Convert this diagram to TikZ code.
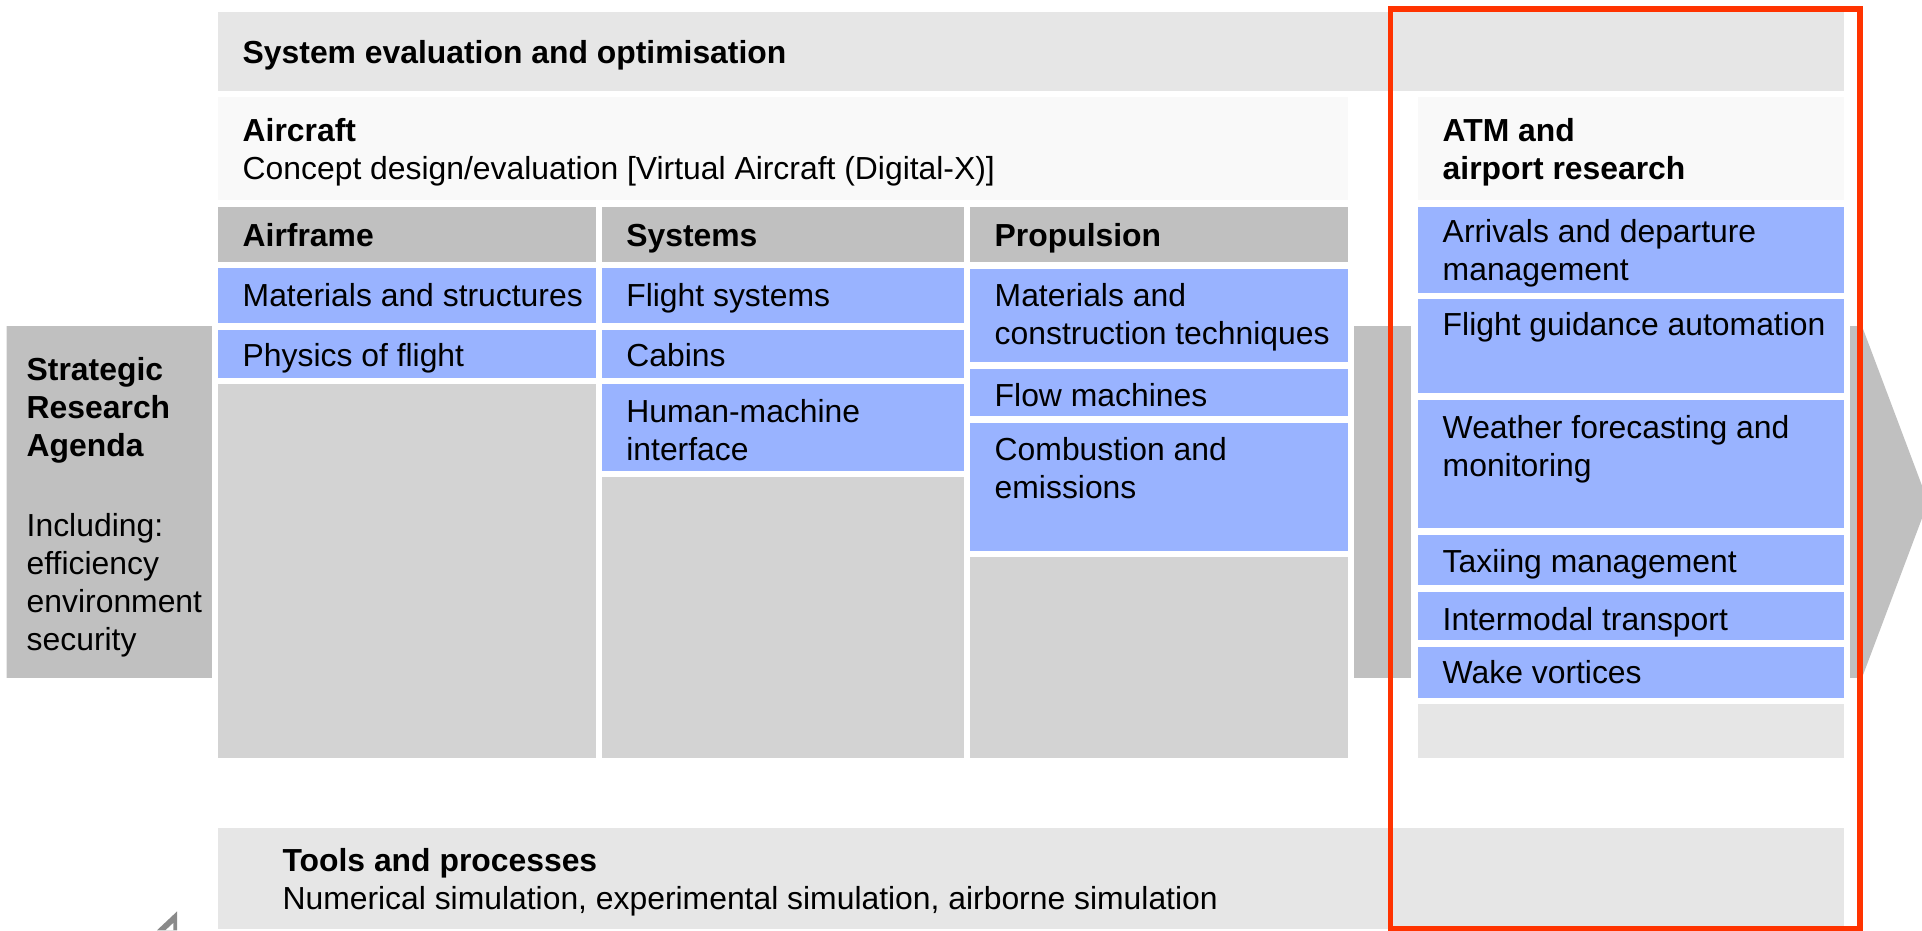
\documentclass[tikz,border=0pt]{standalone}
\usepackage{fontspec}
\setmainfont{Liberation Sans}
\definecolor{bargray}{HTML}{E6E6E6}
\definecolor{headlight}{HTML}{F9F9F9}
\definecolor{colhead}{HTML}{C0C0C0}
\definecolor{itemblue}{HTML}{99B3FF}
\definecolor{fillgray}{HTML}{D3D3D3}
\definecolor{arrowgray}{HTML}{C0C0C0}
\definecolor{redframe}{HTML}{FF3300}
\definecolor{markgray}{HTML}{8A8A8A}
\tikzset{
  cellbox/.style={rectangle, draw=white, line width=5pt, inner sep=0pt, outer sep=0pt},
  lbl/.style={anchor=north west, inner sep=0pt, outer sep=0pt, align=left,
    font=\fontsize{26}{31}\selectfont, text=black,
    execute at begin node={\rule{0pt}{22pt}}},
  frame/.style={draw=redframe, line width=4.2pt},
}
% name, x1, y1, x2, y2, colour
\newcommand\mkcell[6]{%
  \node[cellbox, fill=#6, minimum width={(#4)-(#2)+5}, minimum height={(#5)-(#3)+5}]
    (#1) at ({((#2)+(#4))/2},{((#3)+(#5))/2}) {};}
% name, x, first baseline, text
\newcommand\mklbl[4]{\node[lbl] (#1) at (#2,{(#3)-22}) {#4};}
\begin{document}
\begin{tikzpicture}[x=1pt, y=-1pt]
\useasboundingbox (0,0) rectangle (1568,759);
% big arrow (Strategic Research Agenda)
\fill[arrowgray] (5.4,266) -- (1519,266) -- (1573,409.5) -- (1519,553) -- (5.4,553) -- cycle;
% top and bottom bars
\mkcell{sys}{178}{9.5}{1504.5}{74}{bargray}
\mkcell{tools}{178}{675.6}{1504.5}{757.5}{bargray}
% headers
\mkcell{aircraft}{178}{79.5}{1099.5}{163.5}{headlight}
\mkcell{atm}{1156.5}{79.5}{1504.5}{163.5}{headlight}
\mkcell{afh}{178}{168.6}{486}{214}{colhead}
\mkcell{syh}{491}{168.6}{786.4}{214}{colhead}
\mkcell{prh}{791.3}{168.6}{1099.5}{214}{colhead}
% Airframe
\mkcell{ms}{178}{218.9}{486}{263.8}{itemblue}
\mkcell{pof}{178}{269.2}{486}{308.6}{itemblue}
\mkcell{afg}{178}{313.5}{486}{618.5}{fillgray}
% Systems
\mkcell{fs}{491}{218.9}{786.4}{263.8}{itemblue}
\mkcell{cab}{491}{269.2}{786.4}{308.6}{itemblue}
\mkcell{hmi}{491}{313.5}{786.4}{384}{itemblue}
\mkcell{syg}{491}{389}{786.4}{618.5}{fillgray}
% Propulsion
\mkcell{mct}{791.3}{219.3}{1099.5}{295.2}{itemblue}
\mkcell{flow}{791.3}{301}{1099.5}{339.7}{itemblue}
\mkcell{comb}{791.3}{345.2}{1099.5}{449.4}{itemblue}
\mkcell{prg}{791.3}{454.8}{1099.5}{618.5}{fillgray}
% ATM and airport research
\mkcell{arr}{1156.5}{168.6}{1504.5}{238.8}{itemblue}
\mkcell{fga}{1156.5}{244.2}{1504.5}{320.9}{itemblue}
\mkcell{wfm}{1156.5}{326.6}{1504.5}{431}{itemblue}
\mkcell{tax}{1156.5}{436.5}{1504.5}{477.3}{itemblue}
\mkcell{itm}{1156.5}{483.2}{1504.5}{522.1}{itemblue}
\mkcell{wake}{1156.5}{527.6}{1504.5}{569.4}{itemblue}
\mkcell{atmg}{1156.5}{574.4}{1504.5}{618.5}{bargray}
% highlight frame
\draw[frame] (1134.5,7.3) rectangle (1517.4,757.2);
% small mark bottom left
\fill[markgray] (128,759) -- (144.4,743.6) -- (144.4,759) -- cycle;
\fill[white] (135,759) -- (141.4,753) -- (141.4,759) -- cycle;
% texts
\mklbl{tsys}{198}{52.2}{\textbf{System evaluation and optimisation}}
\mklbl{tair}{198}{119}{\textbf{Aircraft}\\Concept design/evaluation [Virtual Aircraft (Digital-X)]}
\mklbl{tatm}{1177}{119}{\textbf{ATM and}\\\textbf{airport research}}
\mklbl{tafh}{198}{201}{\textbf{Airframe}}
\mklbl{tsyh}{511}{201}{\textbf{Systems}}
\mklbl{tprh}{811.5}{201}{\textbf{Propulsion}}
\mklbl{tms}{198}{249.8}{Materials and structures}
\mklbl{tpof}{198}{298.8}{Physics of flight}
\mklbl{tfs}{511}{249.8}{Flight systems}
\mklbl{tcab}{511}{298.8}{Cabins}
\mklbl{thmi}{511}{347.5}{Human-machine\\interface}
\mklbl{tmct}{811.5}{253}{Materials and\\construction techniques}
\mklbl{tflow}{811.5}{332}{Flow machines}
\mklbl{tcomb}{811.5}{378.5}{Combustion and\\emissions}
\mklbl{tarr}{1177}{201}{Arrivals and departure\\management}
\mklbl{tfga}{1177}{273.8}{Flight guidance automation}
\mklbl{twfm}{1177}{360.5}{Weather forecasting and\\monitoring}
\mklbl{ttax}{1177}{467.3}{Taxiing management}
\mklbl{titm}{1177}{514}{Intermodal transport}
\mklbl{twake}{1177}{557.3}{Wake vortices}
\mklbl{tsra}{21.8}{313.5}{\textbf{Strategic}\\\textbf{Research}\\\textbf{Agenda}\\[34pt]Including:\\efficiency\\environment\\security}
\mklbl{ttools}{230.5}{713.8}{\textbf{Tools and processes}\\Numerical simulation, experimental simulation, airborne simulation}
\end{tikzpicture}
\end{document}
